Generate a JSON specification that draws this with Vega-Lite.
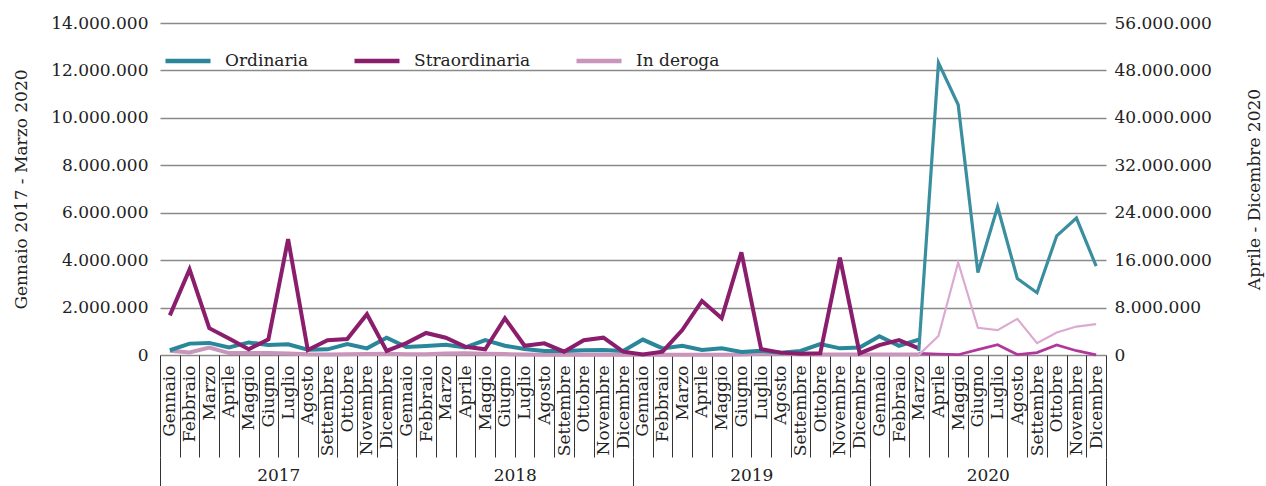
{
  "$schema": "https://vega.github.io/schema/vega-lite/v6.json",
  "width": 946,
  "height": 332,
  "autosize": {"type": "none"},
  "padding": {"left": 160, "top": 23, "right": 160, "bottom": 131},
  "config": {
    "locale": {"number": {"decimal": ",", "thousands": ".", "grouping": [3], "currency": ["€", ""]}},
    "font": "DejaVu Serif",
    "view": {"stroke": null},
    "axis": {"labelFont": "DejaVu Serif", "titleFont": "DejaVu Serif", "labelColor": "#222222", "titleColor": "#222222", "labelFontSize": 17, "titleFontSize": 17, "titleFontWeight": "normal"}
  },
  "datasets": {
    "main": [
      {"m":"2017-01","s":"In deroga","a":"L","v":180000},{"m":"2017-02","s":"In deroga","a":"L","v":110000},{"m":"2017-03","s":"In deroga","a":"L","v":310000},{"m":"2017-04","s":"In deroga","a":"L","v":80000},{"m":"2017-05","s":"In deroga","a":"L","v":80000},{"m":"2017-06","s":"In deroga","a":"L","v":80000},{"m":"2017-07","s":"In deroga","a":"L","v":60000},{"m":"2017-08","s":"In deroga","a":"L","v":30000},{"m":"2017-09","s":"In deroga","a":"L","v":20000},{"m":"2017-10","s":"In deroga","a":"L","v":30000},{"m":"2017-11","s":"In deroga","a":"L","v":40000},{"m":"2017-12","s":"In deroga","a":"L","v":50000},
      {"m":"2018-01","s":"In deroga","a":"L","v":30000},{"m":"2018-02","s":"In deroga","a":"L","v":30000},{"m":"2018-03","s":"In deroga","a":"L","v":60000},{"m":"2018-04","s":"In deroga","a":"L","v":70000},{"m":"2018-05","s":"In deroga","a":"L","v":50000},{"m":"2018-06","s":"In deroga","a":"L","v":40000},{"m":"2018-07","s":"In deroga","a":"L","v":20000},{"m":"2018-08","s":"In deroga","a":"L","v":10000},{"m":"2018-09","s":"In deroga","a":"L","v":10000},{"m":"2018-10","s":"In deroga","a":"L","v":10000},{"m":"2018-11","s":"In deroga","a":"L","v":10000},{"m":"2018-12","s":"In deroga","a":"L","v":10000},
      {"m":"2019-01","s":"In deroga","a":"L","v":10000},{"m":"2019-02","s":"In deroga","a":"L","v":10000},{"m":"2019-03","s":"In deroga","a":"L","v":10000},{"m":"2019-04","s":"In deroga","a":"L","v":10000},{"m":"2019-05","s":"In deroga","a":"L","v":10000},{"m":"2019-06","s":"In deroga","a":"L","v":20000},{"m":"2019-07","s":"In deroga","a":"L","v":50000},{"m":"2019-08","s":"In deroga","a":"L","v":60000},{"m":"2019-09","s":"In deroga","a":"L","v":30000},{"m":"2019-10","s":"In deroga","a":"L","v":20000},{"m":"2019-11","s":"In deroga","a":"L","v":20000},{"m":"2019-12","s":"In deroga","a":"L","v":20000},
      {"m":"2020-01","s":"In deroga","a":"L","v":20000},{"m":"2020-02","s":"In deroga","a":"L","v":20000},{"m":"2020-03","s":"In deroga","a":"L","v":20000},

      {"m":"2017-01","s":"Ordinaria","a":"L","v":200000},{"m":"2017-02","s":"Ordinaria","a":"L","v":480000},{"m":"2017-03","s":"Ordinaria","a":"L","v":510000},{"m":"2017-04","s":"Ordinaria","a":"L","v":320000},{"m":"2017-05","s":"Ordinaria","a":"L","v":530000},{"m":"2017-06","s":"Ordinaria","a":"L","v":420000},{"m":"2017-07","s":"Ordinaria","a":"L","v":450000},{"m":"2017-08","s":"Ordinaria","a":"L","v":220000},{"m":"2017-09","s":"Ordinaria","a":"L","v":240000},{"m":"2017-10","s":"Ordinaria","a":"L","v":460000},{"m":"2017-11","s":"Ordinaria","a":"L","v":280000},{"m":"2017-12","s":"Ordinaria","a":"L","v":730000},
      {"m":"2018-01","s":"Ordinaria","a":"L","v":340000},{"m":"2018-02","s":"Ordinaria","a":"L","v":380000},{"m":"2018-03","s":"Ordinaria","a":"L","v":430000},{"m":"2018-04","s":"Ordinaria","a":"L","v":320000},{"m":"2018-05","s":"Ordinaria","a":"L","v":630000},{"m":"2018-06","s":"Ordinaria","a":"L","v":390000},{"m":"2018-07","s":"Ordinaria","a":"L","v":250000},{"m":"2018-08","s":"Ordinaria","a":"L","v":170000},{"m":"2018-09","s":"Ordinaria","a":"L","v":170000},{"m":"2018-10","s":"Ordinaria","a":"L","v":200000},{"m":"2018-11","s":"Ordinaria","a":"L","v":210000},{"m":"2018-12","s":"Ordinaria","a":"L","v":170000},
      {"m":"2019-01","s":"Ordinaria","a":"L","v":650000},{"m":"2019-02","s":"Ordinaria","a":"L","v":280000},{"m":"2019-03","s":"Ordinaria","a":"L","v":390000},{"m":"2019-04","s":"Ordinaria","a":"L","v":210000},{"m":"2019-05","s":"Ordinaria","a":"L","v":280000},{"m":"2019-06","s":"Ordinaria","a":"L","v":130000},{"m":"2019-07","s":"Ordinaria","a":"L","v":180000},{"m":"2019-08","s":"Ordinaria","a":"L","v":100000},{"m":"2019-09","s":"Ordinaria","a":"L","v":170000},{"m":"2019-10","s":"Ordinaria","a":"L","v":460000},{"m":"2019-11","s":"Ordinaria","a":"L","v":280000},{"m":"2019-12","s":"Ordinaria","a":"L","v":320000},
      {"m":"2020-01","s":"Ordinaria","a":"L","v":790000},{"m":"2020-02","s":"Ordinaria","a":"L","v":390000},{"m":"2020-03","s":"Ordinaria","a":"L","v":650000},

      {"m":"2017-01","s":"Straordinaria","a":"L","v":1670000},{"m":"2017-02","s":"Straordinaria","a":"L","v":3610000},{"m":"2017-03","s":"Straordinaria","a":"L","v":1130000},{"m":"2017-04","s":"Straordinaria","a":"L","v":700000},{"m":"2017-05","s":"Straordinaria","a":"L","v":240000},{"m":"2017-06","s":"Straordinaria","a":"L","v":660000},{"m":"2017-07","s":"Straordinaria","a":"L","v":4890000},{"m":"2017-08","s":"Straordinaria","a":"L","v":210000},{"m":"2017-09","s":"Straordinaria","a":"L","v":620000},{"m":"2017-10","s":"Straordinaria","a":"L","v":670000},{"m":"2017-11","s":"Straordinaria","a":"L","v":1720000},{"m":"2017-12","s":"Straordinaria","a":"L","v":170000},
      {"m":"2018-01","s":"Straordinaria","a":"L","v":500000},{"m":"2018-02","s":"Straordinaria","a":"L","v":930000},{"m":"2018-03","s":"Straordinaria","a":"L","v":730000},{"m":"2018-04","s":"Straordinaria","a":"L","v":350000},{"m":"2018-05","s":"Straordinaria","a":"L","v":240000},{"m":"2018-06","s":"Straordinaria","a":"L","v":1550000},{"m":"2018-07","s":"Straordinaria","a":"L","v":390000},{"m":"2018-08","s":"Straordinaria","a":"L","v":490000},{"m":"2018-09","s":"Straordinaria","a":"L","v":140000},{"m":"2018-10","s":"Straordinaria","a":"L","v":620000},{"m":"2018-11","s":"Straordinaria","a":"L","v":730000},{"m":"2018-12","s":"Straordinaria","a":"L","v":140000},
      {"m":"2019-01","s":"Straordinaria","a":"L","v":20000},{"m":"2019-02","s":"Straordinaria","a":"L","v":140000},{"m":"2019-03","s":"Straordinaria","a":"L","v":1050000},{"m":"2019-04","s":"Straordinaria","a":"L","v":2280000},{"m":"2019-05","s":"Straordinaria","a":"L","v":1550000},{"m":"2019-06","s":"Straordinaria","a":"L","v":4330000},{"m":"2019-07","s":"Straordinaria","a":"L","v":250000},{"m":"2019-08","s":"Straordinaria","a":"L","v":100000},{"m":"2019-09","s":"Straordinaria","a":"L","v":50000},{"m":"2019-10","s":"Straordinaria","a":"L","v":70000},{"m":"2019-11","s":"Straordinaria","a":"L","v":4100000},{"m":"2019-12","s":"Straordinaria","a":"L","v":70000},
      {"m":"2020-01","s":"Straordinaria","a":"L","v":420000},{"m":"2020-02","s":"Straordinaria","a":"L","v":630000},{"m":"2020-03","s":"Straordinaria","a":"L","v":280000},

      {"m":"2020-03","s":"Straordinaria","a":"R","v":280000},{"m":"2020-04","s":"Straordinaria","a":"R","v":170000},{"m":"2020-05","s":"Straordinaria","a":"R","v":50000},{"m":"2020-06","s":"Straordinaria","a":"R","v":900000},{"m":"2020-07","s":"Straordinaria","a":"R","v":1740000},{"m":"2020-08","s":"Straordinaria","a":"R","v":80000},{"m":"2020-09","s":"Straordinaria","a":"R","v":400000},{"m":"2020-10","s":"Straordinaria","a":"R","v":1690000},{"m":"2020-11","s":"Straordinaria","a":"R","v":730000},{"m":"2020-12","s":"Straordinaria","a":"R","v":20000},
      {"m":"2020-03","s":"In deroga","a":"R","v":20000},{"m":"2020-04","s":"In deroga","a":"R","v":3200000},{"m":"2020-05","s":"In deroga","a":"R","v":15600000},{"m":"2020-06","s":"In deroga","a":"R","v":4600000},{"m":"2020-07","s":"In deroga","a":"R","v":4200000},{"m":"2020-08","s":"In deroga","a":"R","v":6100000},{"m":"2020-09","s":"In deroga","a":"R","v":2000000},{"m":"2020-10","s":"In deroga","a":"R","v":3800000},{"m":"2020-11","s":"In deroga","a":"R","v":4800000},{"m":"2020-12","s":"In deroga","a":"R","v":5200000},
      {"m":"2020-03","s":"Ordinaria","a":"R","v":650000},{"m":"2020-04","s":"Ordinaria","a":"R","v":49300000},{"m":"2020-05","s":"Ordinaria","a":"R","v":42200000},{"m":"2020-06","s":"Ordinaria","a":"R","v":13900000},{"m":"2020-07","s":"Ordinaria","a":"R","v":25000000},{"m":"2020-08","s":"Ordinaria","a":"R","v":12900000},{"m":"2020-09","s":"Ordinaria","a":"R","v":10500000},{"m":"2020-10","s":"Ordinaria","a":"R","v":20100000},{"m":"2020-11","s":"Ordinaria","a":"R","v":23100000},{"m":"2020-12","s":"Ordinaria","a":"R","v":15000000}
    ],
    "years": [{"yr": "2017"}, {"yr": "2018"}, {"yr": "2019"}, {"yr": "2020"}]
  },
  "layer": [
    {
      "data": {"name": "main"},
      "transform": [{"filter": "datum.a === 'L'"}],
      "mark": {"type": "line", "strokeWidth": 4},
      "encoding": {
        "x": {
          "field": "m", "type": "ordinal", "bandPosition": 0.5,
          "scale": {"type": "band", "paddingInner": 0, "paddingOuter": 0, "domain": ["2017-01","2017-02","2017-03","2017-04","2017-05","2017-06","2017-07","2017-08","2017-09","2017-10","2017-11","2017-12","2018-01","2018-02","2018-03","2018-04","2018-05","2018-06","2018-07","2018-08","2018-09","2018-10","2018-11","2018-12","2019-01","2019-02","2019-03","2019-04","2019-05","2019-06","2019-07","2019-08","2019-09","2019-10","2019-11","2019-12","2020-01","2020-02","2020-03","2020-04","2020-05","2020-06","2020-07","2020-08","2020-09","2020-10","2020-11","2020-12"]},
          "axis": {
            "orient": "bottom", "title": null,
            "labelExpr": "['Gennaio','Febbraio','Marzo','Aprile','Maggio','Giugno','Luglio','Agosto','Settembre','Ottobre','Novembre','Dicembre'][toNumber(substring(datum.value, 5, 7)) - 1]",
            "labelAngle": 270, "labelAlign": "right", "labelBaseline": "middle",
            "labelPadding": -92, "tickSize": 102, "tickBand": "extent",
            "tickColor": "#333333", "tickWidth": 1, "domain": false, "grid": false,
            "labelOverlap": false, "labelBound": false, "labelFlush": false
          }
        },
        "y": {
          "field": "v", "type": "quantitative",
          "scale": {"domain": [0, 14000000]},
          "axis": {
            "title": "Gennaio 2017 - Marzo 2020",
            "values": [0, 2000000, 4000000, 6000000, 8000000, 10000000, 12000000, 14000000],
            "format": ",d", "grid": true, "gridColor": "#8a8a8a", "gridWidth": 1.3,
            "ticks": false, "domain": false, "labelPadding": 12, "titlePadding": 20
          }
        },
        "color": {
          "field": "s", "type": "nominal",
          "scale": {"domain": ["Ordinaria", "Straordinaria", "In deroga"], "range": ["#2a8699", "#8a1e6d", "#c995ba"]},
          "legend": {
            "orient": "none", "legendX": 3, "legendY": 13, "direction": "horizontal", "title": null,
            "symbolType": "stroke", "symbolSize": 2025, "symbolStrokeWidth": 4.5,
            "labelFont": "DejaVu Serif", "labelFontSize": 17, "labelColor": "#222222",
            "labelOffset": 12, "columnPadding": 36, "padding": 0
          }
        }
      }
    },
    {
      "data": {"name": "main"},
      "transform": [{"filter": "datum.a === 'R'"}],
      "mark": {"type": "line"},
      "encoding": {
        "x": {
          "field": "m", "type": "ordinal", "bandPosition": 0.5,
          "scale": {"type": "band", "paddingInner": 0, "paddingOuter": 0, "domain": ["2017-01","2017-02","2017-03","2017-04","2017-05","2017-06","2017-07","2017-08","2017-09","2017-10","2017-11","2017-12","2018-01","2018-02","2018-03","2018-04","2018-05","2018-06","2018-07","2018-08","2018-09","2018-10","2018-11","2018-12","2019-01","2019-02","2019-03","2019-04","2019-05","2019-06","2019-07","2019-08","2019-09","2019-10","2019-11","2019-12","2020-01","2020-02","2020-03","2020-04","2020-05","2020-06","2020-07","2020-08","2020-09","2020-10","2020-11","2020-12"]},
          "axis": null
        },
        "y": {
          "field": "v", "type": "quantitative",
          "scale": {"domain": [0, 56000000]},
          "axis": {
            "orient": "right", "title": "Aprile - Dicembre 2020",
            "values": [0, 8000000, 16000000, 24000000, 32000000, 40000000, 48000000, 56000000],
            "format": ",d", "grid": false, "ticks": false, "domain": false,
            "labelPadding": 8, "titleAngle": 270, "titleBaseline": "top", "titlePadding": 35
          }
        },
        "color": {
          "field": "s", "type": "nominal",
          "scale": {"domain": ["Ordinaria", "Straordinaria", "In deroga"], "range": ["#3a8ea0", "#b2379b", "#dcaad0"]},
          "legend": null
        },
        "strokeWidth": {
          "field": "s", "type": "nominal",
          "scale": {"domain": ["Ordinaria", "Straordinaria", "In deroga"], "range": [3.2, 2.2, 3.8]},
          "legend": null
        }
      }
    },
    {
      "data": {"name": "years"},
      "mark": {"type": "rule", "opacity": 0},
      "encoding": {
        "x": {
          "field": "yr", "type": "ordinal",
          "scale": {"type": "band", "paddingInner": 0, "paddingOuter": 0},
          "axis": {
            "orient": "bottom", "offset": 102, "title": null, "labelAngle": 0,
            "tickBand": "extent", "tickSize": 32, "labelPadding": -22,
            "tickColor": "#333333", "tickWidth": 1, "domain": false, "grid": false,
            "labelBaseline": "top"
          }
        }
      }
    }
  ],
  "resolve": {"scale": {"x": "independent", "y": "independent", "color": "independent", "strokeWidth": "independent"}}
}
